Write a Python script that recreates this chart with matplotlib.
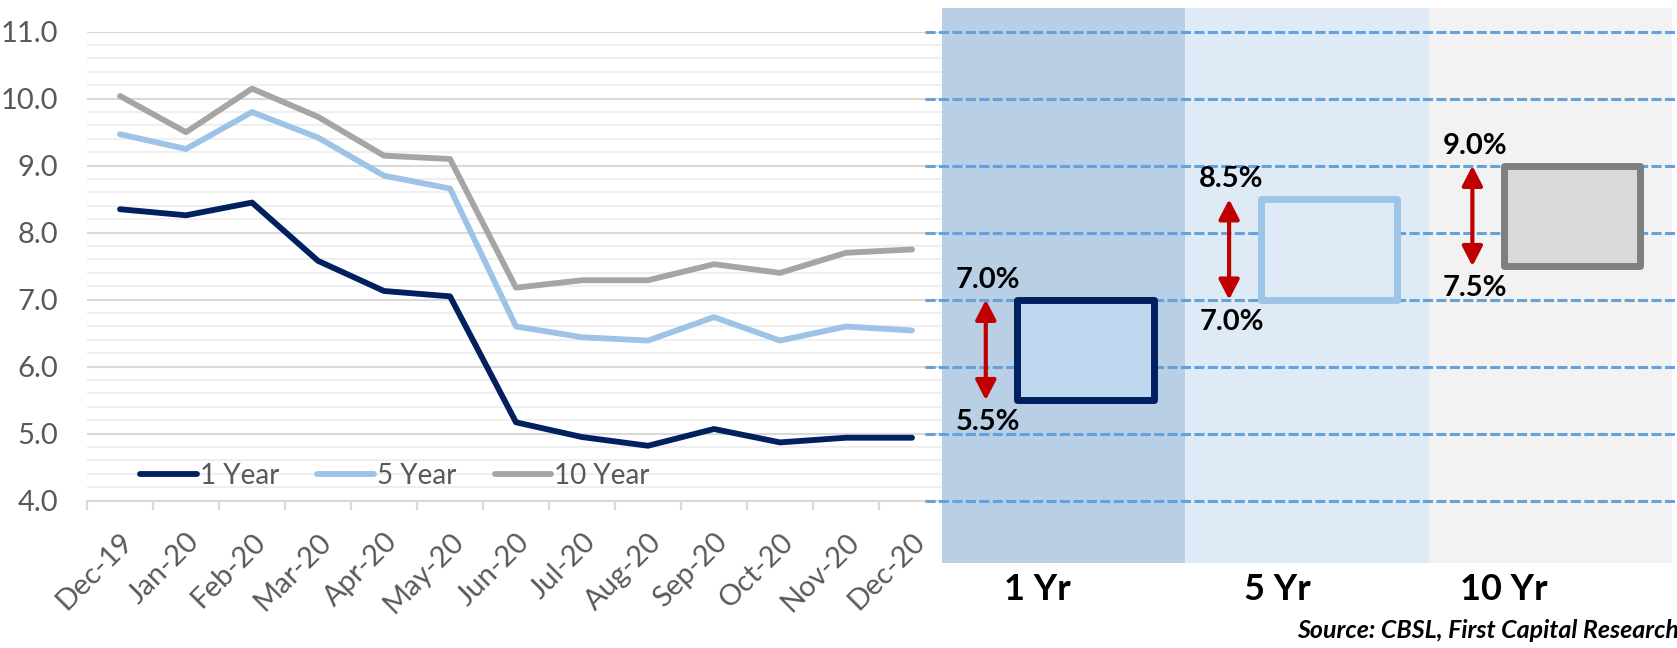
import numpy as np
import matplotlib.pyplot as plt
from matplotlib.patches import Rectangle, FancyArrowPatch
from matplotlib.ticker import MultipleLocator, FixedLocator, FormatStrFormatter

plt.rcParams['font.family'] = ['Lato', 'DejaVu Sans']

# monthly government security yields (%)
months = ['Dec-19', 'Jan-20', 'Feb-20', 'Mar-20', 'Apr-20', 'May-20', 'Jun-20',
          'Jul-20', 'Aug-20', 'Sep-20', 'Oct-20', 'Nov-20', 'Dec-20']
yield_1y = [8.35, 8.26, 8.45, 7.58, 7.13, 7.05, 5.17, 4.95, 4.82, 5.07, 4.87, 4.94, 4.94]
yield_5y = [9.47, 9.25, 9.80, 9.42, 8.85, 8.66, 6.60, 6.44, 6.39, 6.74, 6.39, 6.60, 6.54]
yield_10y = [10.04, 9.50, 10.15, 9.73, 9.15, 9.10, 7.18, 7.29, 7.29, 7.53, 7.40, 7.70, 7.75]

# expected yield ranges by tenor (%)
tenors = ['1 Yr', '5 Yr', '10 Yr']
range_low = [5.5, 7.0, 7.5]
range_high = [7.0, 8.5, 9.0]

source_note = 'Source: CBSL, First Capital Research'

navy, light_blue, grey = '#002060', '#9DC3E6', '#A5A5A5'
panel_colors = ['#B8CFE6', '#DEEAF6', '#F2F2F2']
box_faces = ['#BDD7EE', '#DEEAF6', '#D9D9D9']
box_edges = [navy, light_blue, '#7F7F7F']
tenor_x = [0.39, 1.38, 2.31]

W, H = 1677, 648
fig = plt.figure(figsize=(W / 100, H / 100), dpi=100)

# ---- left: yield history ----
ax = fig.add_axes([87 / W, 1 - 500.7 / H, (945 - 87) / W, (500.7 - 31.7) / H])
x = np.arange(len(months))
for ys, c, lab in [(yield_1y, navy, '1 Year'), (yield_5y, light_blue, '5 Year'),
                   (yield_10y, grey, '10 Year')]:
    ax.plot(x, ys, color=c, lw=4.2, label=lab, solid_capstyle='round',
            solid_joinstyle='round')

ax.set_xlim(-0.5, len(months) - 0.5)
ax.set_ylim(4, 11)
ax.yaxis.set_major_locator(MultipleLocator(1))
ax.yaxis.set_minor_locator(MultipleLocator(0.2))
ax.yaxis.set_major_formatter(FormatStrFormatter('%.1f'))
ax.grid(which='major', axis='y', color='#D9D9D9', lw=1.5)
ax.grid(which='minor', axis='y', color='#EFEFEF', lw=1.5)
ax.set_axisbelow(True)
for s in ['top', 'right', 'left']:
    ax.spines[s].set_visible(False)
ax.spines['bottom'].set_color('#D9D9D9')
ax.spines['bottom'].set_linewidth(1.5)

ax.set_xticks(x)
ax.set_xticklabels(months, rotation=45, ha='right', va='top', rotation_mode='anchor')
ax.xaxis.set_minor_locator(FixedLocator(np.arange(-0.5, len(months), 1)))
ax.tick_params(axis='x', which='major', length=0, pad=20, labelsize=21,
               labelcolor='#595959')
ax.tick_params(axis='x', which='minor', length=6.5, width=1.5, color='#D9D9D9')
ax.tick_params(axis='y', which='both', length=0, pad=21, labelsize=21,
               labelcolor='#595959')

ax.legend(loc='center left', bbox_to_anchor=(0.062, 0.053), ncol=3, frameon=False,
          fontsize=20, handlelength=2.05, handletextpad=0.1, columnspacing=1.37,
          borderpad=0, borderaxespad=0, labelcolor='#595959')

# ---- right: expected ranges ----
rx = fig.add_axes([925 / W, 1 - 563 / H, (W - 925) / W, 555 / H])
rx.set_xlim(-0.0699, 3.021)
rx.set_ylim(3.070, 11.354)
rx.axis('off')
rx.patch.set_alpha(0)

for i in range(len(tenors)):
    rx.axvspan(i, i + 1, color=panel_colors[i], zorder=0, lw=0)

for v in range(4, 12):
    rx.axhline(v, color='#66A2DA', lw=2.2, dashes=(3.3, 1.1), zorder=1)

for i, (lo, hi) in enumerate(zip(range_low, range_high)):
    rx.add_patch(Rectangle((i + 0.31, lo), 0.56, hi - lo, fc=box_faces[i],
                           ec=box_edges[i], lw=5, joinstyle='round', zorder=2))
    rx.add_patch(FancyArrowPatch((i + 0.18, hi), (i + 0.18, lo),
                                 arrowstyle='<|-|>,head_length=1.2,head_width=0.62',
                                 mutation_scale=10, lw=3, color='#C00000',
                                 shrinkA=0, shrinkB=0, zorder=3))
    rx.text(i + 0.19, hi + 0.3, f'{hi:.1f}%', ha='center', va='center',
            fontsize=21, fontweight='bold', color='black', zorder=4)
    rx.text(i + 0.19, lo - 0.33, f'{lo:.1f}%', ha='center', va='center',
            fontsize=21, fontweight='bold', color='black', zorder=4)
    rx.text(tenor_x[i], 2.667, tenors[i], ha='center', va='center', fontsize=26,
            fontweight='bold', color='black', clip_on=False)

fig.text(1679 / W, 1 - 631 / H, source_note, ha='right', va='center', fontsize=18,
         fontweight='bold', style='italic', color='black')

fig.savefig('out.png', dpi=100)
